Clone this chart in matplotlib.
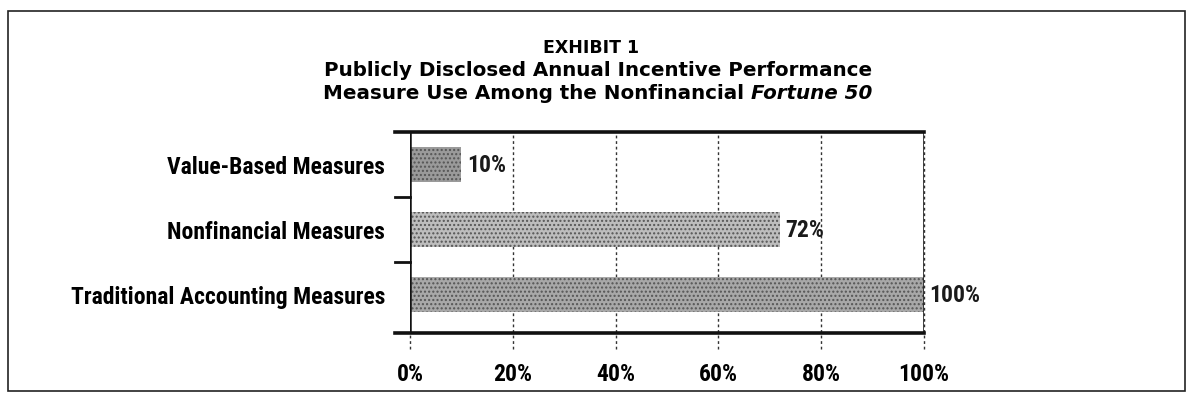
import matplotlib.pyplot as plt
from matplotlib.patches import Rectangle

# data
categories = ["Value-Based Measures", "Nonfinancial Measures", "Traditional Accounting Measures"]
values = [10, 72, 100]
bar_colors = ["#9a9a9a", "#bdbdbd", "#a8a8a8"]
xticks = [0, 20, 40, 60, 80, 100]
xtick_labels = ["0%", "20%", "40%", "60%", "80%", "100%"]

fam = ["Roboto Condensed", "DejaVu Sans"]
tfam = ["DejaVu Sans"]

fig = plt.figure(figsize=(11.93, 4.02), dpi=100)
ax = fig.add_axes([0.3437, 0.1692, 0.4308, 0.5])

ypos = list(range(len(categories)))
ax.barh(ypos, values, height=0.54, color=bar_colors, edgecolor="#555555",
        hatch="....", linewidth=0)
ax.set_xlim(0, 100)
ax.set_ylim(2.6, -0.5)

for y, v in zip(ypos, values):
    ax.annotate(f"{v}%", (v, y), xytext=(4, 0), textcoords="offset points",
                va="center", ha="left", fontsize=17, fontweight="bold",
                family=fam, color="#1a1a1a")

# dotted gridlines running down past the axis
for x in xticks[1:]:
    ax.plot([x, x], [-0.08, 1], transform=ax.get_xaxis_transform(),
            color="#333333", lw=1, ls=(0, (2, 2)), clip_on=False, zorder=0.5)
ax.plot([0, 0], [-0.08, 0], transform=ax.get_xaxis_transform(),
        color="#333333", lw=1, ls=(0, (2, 2)), clip_on=False)

for s in ["top", "bottom", "left", "right"]:
    ax.spines[s].set_visible(False)
ax.axvline(0, color="#111111", lw=1.8)
ax.axvline(100, color="#222222", lw=1.2)
# thick top and bottom lines overhanging to the left
ax.plot([-3.0, 100], [1, 1], transform=ax.get_xaxis_transform(), color="#111111",
        lw=2.6, clip_on=False)
ax.plot([-3.0, 100], [0, 0], transform=ax.get_xaxis_transform(), color="#111111",
        lw=2.6, clip_on=False)
# category separator ticks
for b in [0.5, 1.5]:
    ax.plot([-3.0, 0], [b, b], color="#111111", lw=2, clip_on=False)

ax.set_yticks(ypos)
ax.set_yticklabels(categories, fontsize=17, fontweight="bold", family=fam)
ax.tick_params(axis="y", length=0, pad=18)
ax.set_xticks(xticks)
ax.set_xticklabels(xtick_labels, fontsize=17, fontweight="bold", family=fam)
ax.tick_params(axis="x", length=0, pad=21)

cx = 0.501
fig.text(0.4954, 0.868, "EXHIBIT 1", ha="center", va="baseline", fontsize=12.5,
         fontweight="bold", family=tfam)
fig.text(cx, 0.811, "Publicly Disclosed Annual Incentive Performance",
         ha="center", va="baseline", fontsize=14.3, fontweight="bold", family=tfam)

# third title line: regular bold part followed by the italic magazine name
r = fig.canvas.get_renderer()
t1 = fig.text(0, 0.754, "Measure Use Among the Nonfinancial ", ha="left", va="baseline",
              fontsize=14.3, fontweight="bold", family=tfam)
t2 = fig.text(0, 0.754, "Fortune 50", ha="left", va="baseline", fontsize=14.3,
              fontweight="bold", style="italic", family=tfam)
w1 = t1.get_window_extent(r).width / fig.bbox.width
w2 = t2.get_window_extent(r).width / fig.bbox.width
x0 = cx - (w1 + w2) / 2
t1.set_x(x0)
t2.set_x(x0 + w1)

# outer frame
fig.add_artist(Rectangle((0.007, 0.025), 0.986, 0.945, transform=fig.transFigure,
                         fill=False, edgecolor="#222222", lw=1.2))

fig.savefig("out.png", dpi=100)
